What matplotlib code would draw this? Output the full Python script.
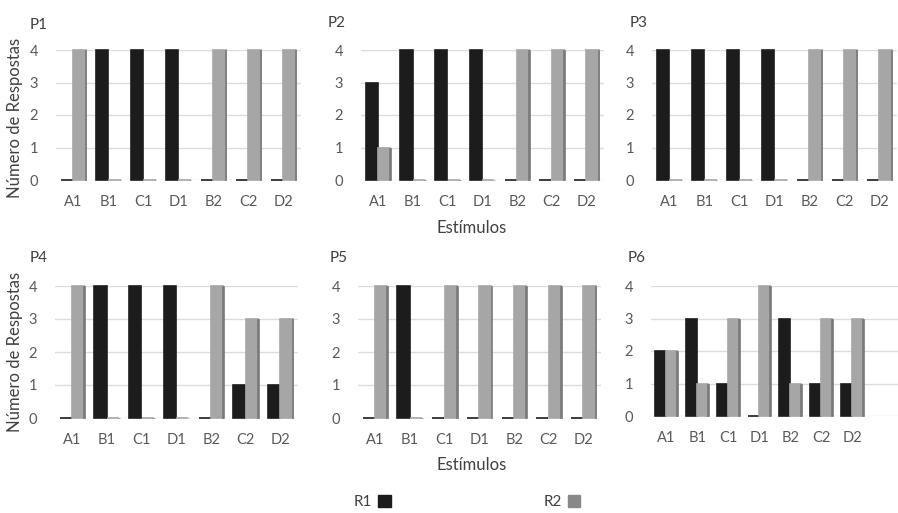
import matplotlib.pyplot as plt
import numpy as np
from matplotlib.patches import Patch

plt.rcParams['font.family'] = ['Lato', 'DejaVu Sans']

estimulos = ['A1', 'B1', 'C1', 'D1', 'B2', 'C2', 'D2']

p1_r1 = [0, 4, 4, 4, 0, 0, 0]
p1_r2 = [4, 0, 0, 0, 4, 4, 4]
p2_r1 = [3, 4, 4, 4, 0, 0, 0]
p2_r2 = [1, 0, 0, 0, 4, 4, 4]
p3_r1 = [4, 4, 4, 4, 0, 0, 0]
p3_r2 = [0, 0, 0, 0, 4, 4, 4]
p4_r1 = [0, 4, 4, 4, 0, 1, 1]
p4_r2 = [4, 0, 0, 0, 4, 3, 3]
p5_r1 = [0, 4, 0, 0, 0, 0, 0]
p5_r2 = [4, 0, 4, 4, 4, 4, 4]
p6_r1 = [2, 3, 1, 0, 3, 1, 1]
p6_r2 = [2, 1, 3, 4, 1, 3, 3]

titles = ['P1', 'P2', 'P3', 'P4', 'P5', 'P6']
r1_all = [p1_r1, p2_r1, p3_r1, p4_r1, p5_r1, p6_r1]
r2_all = [p1_r2, p2_r2, p3_r2, p4_r2, p5_r2, p6_r2]

W, H = 898, 513
# left, right, top, bottom in pixels, plus upper xlim
boxes = [
    (56, 301, 50, 180, 6.5),
    (361, 604, 50, 180, 6.5),
    (652, 897, 50, 180, 6.5),
    (55, 298, 286, 418, 6.5),
    (358, 601, 286, 418, 6.5),
    (651, 898, 286, 416, 7.47),
]
title_pos = [(30, 25), (328, 23), (630, 23), (30, 258), (330, 258), (628, 258)]

black = '#1c1c1c'
gray = '#a6a6a6'
side = '#7a7a7a'
tick_col = '#595959'
text_col = '#404040'

fig = plt.figure(figsize=(W / 100, H / 100), dpi=100)

x = np.arange(len(estimulos))
w = 0.35
for i in range(6):
    l, r, t, b, xmax = boxes[i]
    ax = fig.add_axes([l / W, 1 - b / H, (r - l) / W, (b - t) / H])
    ax.bar(x - 0.19, r1_all[i], w, color=black, edgecolor=black, linewidth=1.2, clip_on=False, zorder=3)
    ax.bar(x + 0.17, r2_all[i], w, color=gray, edgecolor=gray, linewidth=1.2, clip_on=False, zorder=3)
    # darker right face of the grey bars
    ax.bar(x + 0.17 + w / 2, r2_all[i], 0.05, color=side, edgecolor=side, linewidth=0.5, clip_on=False, zorder=3)
    ax.set_xlim(-0.5, xmax)
    ax.set_ylim(0, 4)
    ax.set_yticks([0, 1, 2, 3, 4])
    ax.set_xticks(x)
    ax.set_xticklabels(estimulos)
    ax.grid(axis='y', color='#dcdcdc', linewidth=1.0, zorder=0)
    ax.set_axisbelow(True)
    for s in ax.spines.values():
        s.set_visible(False)
    ax.tick_params(length=0, labelsize=10.5, labelcolor=tick_col)
    ax.tick_params(axis='x', pad=11)
    ax.tick_params(axis='y', pad=13)
    tx, ty = title_pos[i]
    fig.text(tx / W, 1 - ty / H, titles[i], fontsize=11, color=text_col, va='center', ha='left')

fig.text(15 / W, 1 - 118 / H, 'Número de Respostas', rotation=90, fontsize=12,
         color=text_col, ha='center', va='center')
fig.text(15 / W, 1 - 352 / H, 'Número de Respostas', rotation=90, fontsize=12,
         color=text_col, ha='center', va='center')
fig.text(472 / W, 1 - 228 / H, 'Estímulos', fontsize=12, color=text_col, ha='center', va='center')
fig.text(472 / W, 1 - 465 / H, 'Estímulos', fontsize=12, color=text_col, ha='center', va='center')

handles = [Patch(color=black), Patch(color='#888888')]
fig.legend(handles, ['R1', 'R2'], loc='center', bbox_to_anchor=(467 / W, 1 - 502 / H),
           ncol=2, frameon=False, markerfirst=False, handlelength=0.8, handleheight=0.8,
           columnspacing=10, handletextpad=0.4, fontsize=11, labelcolor=text_col)

fig.savefig('out.png', dpi=100)
